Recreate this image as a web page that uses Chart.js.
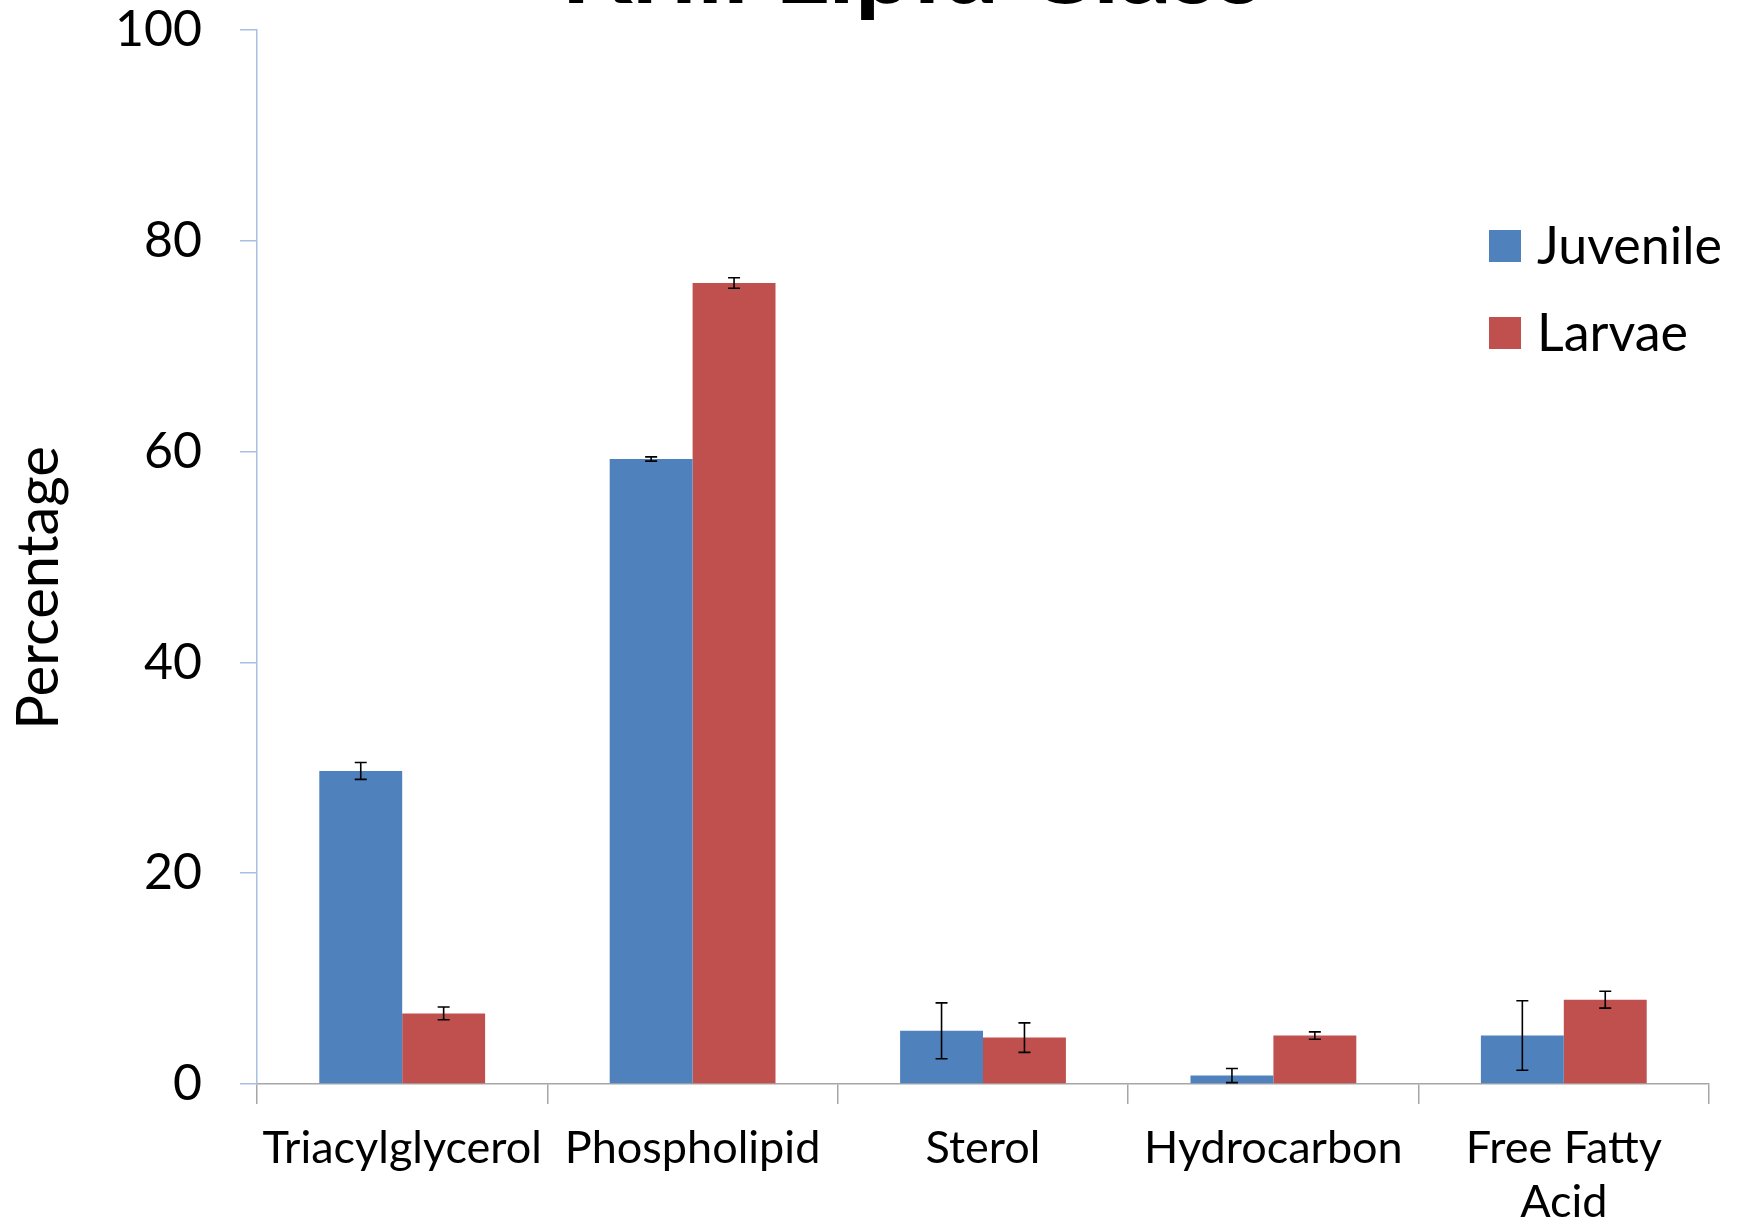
<!DOCTYPE html>
<html>
<head>
<meta charset="utf-8">
<script src="https://cdn.jsdelivr.net/npm/chart.js@4.4.1/dist/chart.umd.min.js"></script>
<style>
html,body{margin:0;padding:0;background:#fff;}
#wrap{width:1748px;height:1225px;position:relative;}
</style>
</head>
<body>
<div id="wrap"><canvas id="c" width="1748" height="1225"></canvas></div>
<script>
const chartTitle = 'Krill Lipid Class';
const yAxisTitle = 'Percentage';
const categories = ['Triacylglycerol', 'Phospholipid', 'Sterol', 'Hydrocarbon', ['Free Fatty', 'Acid']];
const seriesNames = ['Juvenile', 'Larvae'];
const juvenile = [29.7, 59.3, 5.05, 0.8, 4.6];
const juvenileErr = [0.8, 0.2, 2.65, 0.67, 3.3];
const larvae = [6.7, 76.0, 4.4, 4.6, 8.0];
const larvaeErr = [0.6, 0.5, 1.4, 0.35, 0.8];
const yTicks = [0, 20, 40, 60, 80, 100];
const colors = ['#4F81BD', '#C0504D'];

const FONT = 'Lato';

const errorBars = {
  id: 'errorBars',
  afterDatasetsDraw(chart) {
    const ctx = chart.ctx;
    const y = chart.scales.y;
    ctx.save();
    ctx.strokeStyle = '#000';
    ctx.lineWidth = 1.6;
    chart.data.datasets.forEach((ds, di) => {
      const meta = chart.getDatasetMeta(di);
      meta.data.forEach((bar, i) => {
        const v = ds.data[i], e = ds.errors[i];
        const x = bar.x;
        const y1 = y.getPixelForValue(v + e), y2 = y.getPixelForValue(v - e);
        ctx.beginPath();
        ctx.moveTo(x, y1); ctx.lineTo(x, y2);
        ctx.moveTo(x - 6, y1); ctx.lineTo(x + 6, y1);
        ctx.moveTo(x - 6, y2); ctx.lineTo(x + 6, y2);
        ctx.stroke();
      });
    });
    ctx.restore();
  }
};

const customText = {
  id: 'customText',
  afterDraw(chart) {
    const ctx = chart.ctx;
    ctx.save();
    // chart title (cut off at the top edge)
    ctx.fillStyle = '#000';
    ctx.font = 'bold 104px ' + FONT;
    ctx.textAlign = 'center';
    ctx.textBaseline = 'alphabetic';
    ctx.fillText(chartTitle, 912, 3);
    // y-axis title
    ctx.save();
    ctx.translate(39, 588);
    ctx.rotate(-Math.PI / 2);
    ctx.font = '58px ' + FONT;
    ctx.textAlign = 'center';
    ctx.textBaseline = 'middle';
    ctx.fillText(yAxisTitle, 0, 0);
    ctx.restore();
    // legend
    ctx.font = '52px ' + FONT;
    ctx.textAlign = 'left';
    ctx.textBaseline = 'alphabetic';
    chart.data.datasets.forEach((ds, i) => {
      const cy = 246 + i * 87;
      ctx.fillStyle = ds.backgroundColor;
      ctx.fillRect(1489, cy - 16, 32, 32);
      ctx.fillStyle = '#000';
      ctx.fillText(ds.label, 1537, cy + 18);
    });
    ctx.restore();
  }
};

new Chart(document.getElementById('c'), {
  type: 'bar',
  data: {
    labels: categories,
    datasets: [
      { label: seriesNames[0], data: juvenile, errors: juvenileErr, backgroundColor: colors[0] },
      { label: seriesNames[1], data: larvae, errors: larvaeErr, backgroundColor: colors[1] }
    ]
  },
  options: {
    responsive: false,
    animation: false,
    devicePixelRatio: 1,
    layout: { padding: { top: 30, right: 39, left: 0, bottom: 0 } },
    datasets: { bar: { categoryPercentage: 0.571, barPercentage: 1.0 } },
    plugins: {
      legend: { display: false },
      title: { display: false },
      tooltip: { enabled: false }
    },
    scales: {
      x: {
        grid: { display: true, drawOnChartArea: false, drawTicks: true, tickLength: 20, color: '#A6A6A6', lineWidth: 1.5, offset: true },
        border: { display: true, color: '#A6A6A6', width: 1.5 },
        ticks: { color: '#000', font: { family: FONT, size: 45 }, padding: 17, maxRotation: 0, autoSkip: false },
        afterFit(s) { s.height = 141; s.paddingLeft = 0; s.paddingRight = 0; }
      },
      y: {
        min: 0, max: 100,
        afterBuildTicks(s) { s.ticks = yTicks.map(v => ({ value: v })); },
        grid: { display: true, drawOnChartArea: false, drawTicks: true, tickLength: 17, color: '#A7BFE3', lineWidth: 1.5 },
        border: { display: true, color: '#A7BFE3', width: 1.5 },
        ticks: { color: '#000', font: { family: FONT, size: 50 }, padding: 38 },
        title: { display: false },
        afterFit(s) { s.width = 257; s.paddingTop = 0; s.paddingBottom = 0; }
      }
    }
  },
  plugins: [errorBars, customText]
});
</script>
</body>
</html>
